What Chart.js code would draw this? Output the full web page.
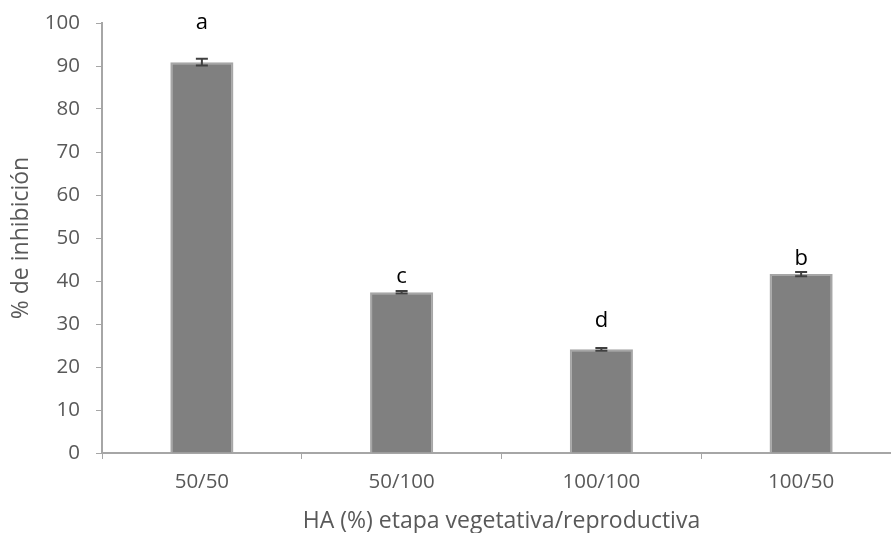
<!DOCTYPE html>
<html>
<head>
<meta charset="utf-8">
<script src="https://cdn.jsdelivr.net/npm/chart.js@4"></script>
<style>
  html, body { margin: 0; padding: 0; background: #fff; overflow: hidden; }
  #wrap { width: 901px; height: 533px; }
</style>
</head>
<body>
<div id="wrap"><canvas id="grafico"></canvas></div>
<script>
// datos
const categorias = ["50/50", "50/100", "100/100", "100/50"];
const inhibicion = [90.9, 37.4, 24.1, 41.6];
const errores = [0.8, 0.3, 0.3, 0.5];
const letras = ["a", "c", "d", "b"];
const letrasY = [98.6, 39.5, 29.3, 43.7]; // linea base de cada letra, en % de inhibicion
const yTicks = [0, 10, 20, 30, 40, 50, 60, 70, 80, 90, 100];

const FUENTE = "'Open Sans', 'Liberation Sans', sans-serif";
const GRIS_EJE = "#a6a6a6";
const GRIS_TEXTO = "#595959";

// barras de error + letras + titulos de ejes
const extras = {
  id: "extras",
  afterDatasetsDraw(chart) {
    const ctx = chart.ctx;
    const x = chart.scales.x;
    const y = chart.scales.y;
    ctx.save();
    ctx.strokeStyle = "#404040";
    ctx.lineWidth = 2;
    inhibicion.forEach((v, i) => {
      const cx = x.getPixelForValue(i);
      const top = y.getPixelForValue(v + errores[i]);
      const bot = y.getPixelForValue(v - errores[i]);
      ctx.beginPath();
      ctx.moveTo(cx, top); ctx.lineTo(cx, bot);
      ctx.moveTo(cx - 6, top); ctx.lineTo(cx + 6, top);
      ctx.moveTo(cx - 6, bot); ctx.lineTo(cx + 6, bot);
      ctx.stroke();
    });
    ctx.fillStyle = "#000";
    ctx.font = "22px " + FUENTE;
    ctx.textAlign = "center";
    ctx.textBaseline = "alphabetic";
    letras.forEach((l, i) => {
      ctx.fillText(l, x.getPixelForValue(i), y.getPixelForValue(letrasY[i]));
    });
    // titulos
    ctx.fillStyle = GRIS_TEXTO;
    ctx.font = "23px " + FUENTE;
    ctx.textBaseline = "middle";
    ctx.fillText("HA (%) etapa vegetativa/reproductiva", (x.left + x.right) / 2, 521);
    ctx.translate(21, (y.top + y.bottom) / 2);
    ctx.rotate(-Math.PI / 2);
    ctx.fillText("% de inhibición", 0, 0);
    ctx.restore();
  }
};

new Chart(document.getElementById("grafico"), {
  type: "bar",
  data: {
    labels: categorias,
    datasets: [{
      data: inhibicion,
      backgroundColor: "#808080",
      borderColor: "#a6a6a6",
      borderWidth: 2,
      barPercentage: 0.316,
      categoryPercentage: 1
    }]
  },
  options: {
    responsive: true,
    maintainAspectRatio: false,
    animation: false,
    layout: { padding: { top: 23, right: 0, left: 0, bottom: 0 } },
    plugins: { legend: { display: false }, tooltip: { enabled: false } },
    scales: {
      x: {
        grid: { drawOnChartArea: false, color: GRIS_EJE, tickLength: 6, offset: true },
        border: { color: GRIS_EJE, width: 2 },
        ticks: { color: GRIS_TEXTO, font: { family: FUENTE, size: 20.5 }, padding: 11 },
        afterFit(s) { s.height = 80; s.paddingLeft = 0; s.paddingRight = 0; }
      },
      y: {
        min: 0,
        max: 100,
        afterBuildTicks(s) { s.ticks = yTicks.map(v => ({ value: v })); },
        grid: { drawOnChartArea: false, color: GRIS_EJE, tickLength: 6 },
        border: { color: GRIS_EJE, width: 2 },
        ticks: { color: GRIS_TEXTO, font: { family: FUENTE, size: 20.5 }, padding: 16 },
        afterFit(s) { s.width = 102; s.paddingTop = 0; s.paddingBottom = 0; }
      }
    }
  },
  plugins: [extras]
});
</script>
</body>
</html>
